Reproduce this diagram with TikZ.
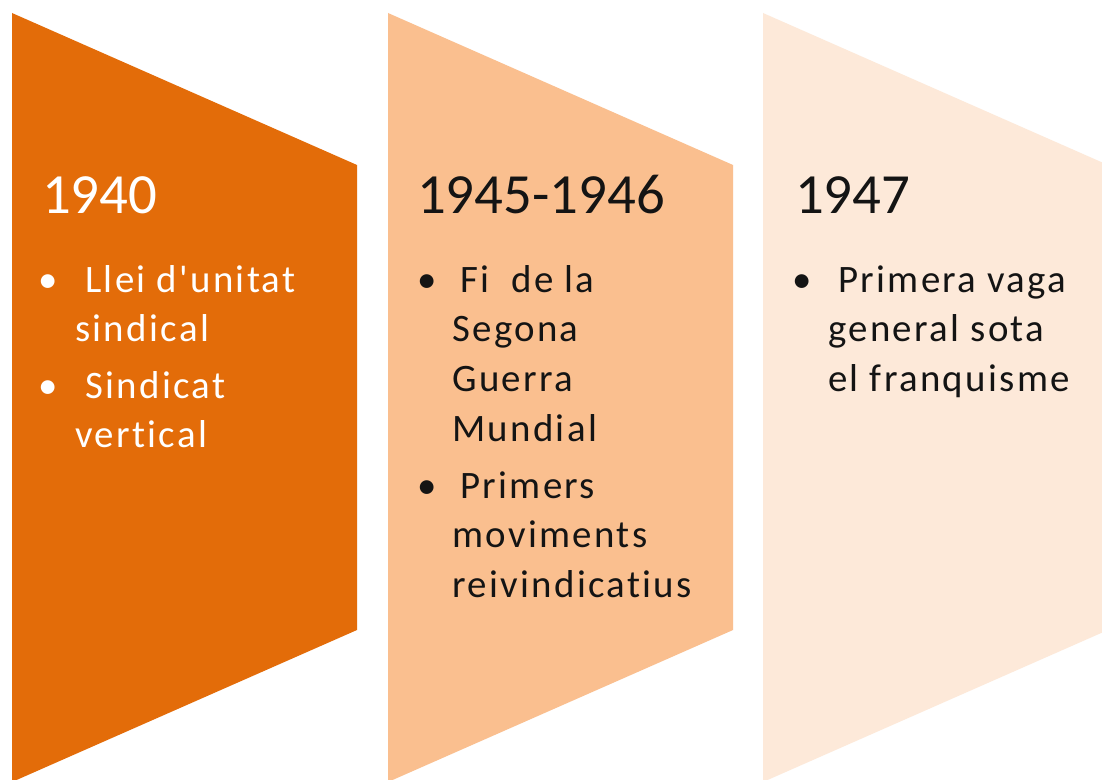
\documentclass[tikz,border=0pt]{standalone}
\usepackage{fontspec}
\setmainfont{Carlito}[Ligatures={TeXOff,CommonOff}]

\definecolor{phaseone}{RGB}{227,108,9}
\definecolor{phasetwo}{RGB}{250,191,143}
\definecolor{phasethree}{RGB}{253,233,217}
\definecolor{inkgray}{RGB}{20,20,20}

% lines of one bullet item, first baseline on top
\newcommand{\itemlines}[1]{\begin{tabular}[t]{@{}l@{}}#1\end{tabular}}

\tikzset{
    yearlabel/.style = {anchor = base west, inner sep = 0pt, font = \fontsize{57}{68}\selectfont},
    bulletdot/.style = {anchor = base, inner sep = 0pt, font = \fontsize{39}{50}\selectfont},
    itemlabel/.style = {anchor = base west, inner sep = 0pt,
        font = \fontsize{39}{50}\selectfont\addfontfeatures{LetterSpace=6}}
}

\begin{document}
\begin{tikzpicture}[x = 1bp, y = -1bp]
        \clip (0,0) rectangle (1102,780);
        \fill[white] (0,0) rectangle (1102,780);

        % the three phases
        \fill[phaseone] (12,13) -- (357,165) -- (357,630) -- (12,782) -- cycle;
        \fill[phasetwo] (388,13) -- (733,165) -- (733,630) -- (388,782) -- cycle;
        \fill[phasethree] (763,13) -- (1108,165) -- (1108,630) -- (763,782) -- cycle;

        % 1940
        \node[yearlabel, white] (year1) at (42,213) {1940};
        \node[bulletdot, white] (dot11) at (48,292) {•};
        \node[itemlabel, white] (item11) at (75,292) {\itemlines{\hspace*{10bp}Llei d'unitat\\sindical}};
        \node[bulletdot, white] (dot12) at (48,398) {•};
        \node[itemlabel, white] (item12) at (75,398) {\itemlines{\hspace*{10bp}Sindicat\\vertical}};

        % 1945-1946
        \node[yearlabel, inkgray] (year2) at (417,213) {1945-1946};
        \node[bulletdot, inkgray] (dot21) at (427,292) {•};
        \node[itemlabel, inkgray] (item21) at (452,292) {\itemlines{\hspace*{8bp}Fi\ \ de la\\Segona\\Guerra\\Mundial}};
        \node[bulletdot, inkgray] (dot22) at (427,498) {•};
        \node[itemlabel, inkgray] (item22) at (452,498) {\itemlines{\hspace*{8bp}Primers\\moviments\\reivindicatius}};

        % 1947
        \node[yearlabel, inkgray] (year3) at (795,213) {1947};
        \node[bulletdot, inkgray] (dot31) at (802,292) {•};
        \node[itemlabel, inkgray] (item31) at (828,292) {\itemlines{\hspace*{10bp}Primera vaga\\general sota\\el franquisme}};
\end{tikzpicture}
\end{document}
